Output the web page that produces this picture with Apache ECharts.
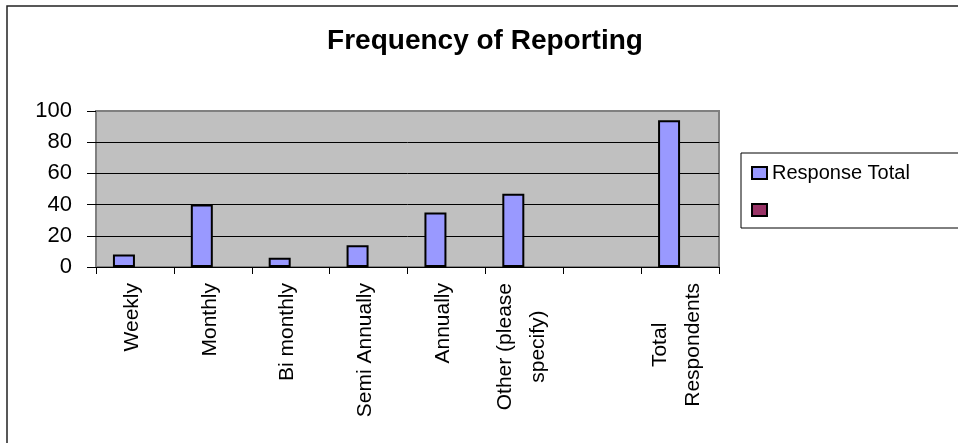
<!DOCTYPE html>
<html>
<head>
<meta charset="utf-8">
<script src="https://cdn.jsdelivr.net/npm/echarts@6/dist/echarts.min.js"></script>
<style>
  html, body { margin: 0; padding: 0; background: #fff; }
  #chart { width: 958px; height: 443px; }
</style>
</head>
<body>
<div id="chart"></div>
<script>
// Survey answers: how often results are reported
const categories = [
  'Weekly',
  'Monthly',
  'Bi monthly',
  'Semi Annually',
  'Annually',
  'Other (please\nspecify)',
  '',
  'Total\nRespondents'
];
const responseTotal = [8, 40, 6, 14, 35, 47, null, 94];
const secondSeries = [null, null, null, null, null, null, null, null];

const titleText = 'Frequency of Reporting';
const seriesNames = ['Response Total', ' '];
const yMin = 0;
const yMax = 100;
const yStep = 20;

const FONT = '"Liberation Sans", Arial, sans-serif';

const chart = echarts.init(document.getElementById('chart'), null, { renderer: 'canvas' });

chart.setOption({
  animation: false,
  backgroundColor: '#ffffff',
  title: {
    text: titleText,
    left: 485,
    top: 27,
    padding: 0,
    textAlign: 'center',
    textStyle: { fontFamily: FONT, fontSize: 28, fontWeight: 'bold', color: '#000' }
  },
  graphic: [{
    // outer chart frame
    type: 'rect',
    shape: { x: 7, y: 6, width: 1100, height: 1100 },
    style: { fill: 'none', stroke: '#222', lineWidth: 1.5 },
    silent: true,
    z: -1
  }],
  legend: {
    orient: 'vertical',
    left: 741,
    top: 153,
    padding: [10, 80, 8, 10],
    itemWidth: 15,
    itemHeight: 12,
    itemGap: 17,
    backgroundColor: '#fff',
    borderColor: '#000',
    borderWidth: 1,
    icon: 'rect',
    textStyle: { fontFamily: FONT, fontSize: 20, color: '#000', lineHeight: 18 },
    data: seriesNames
  },
  grid: {
    left: 96,
    right: 239,
    top: 111,
    bottom: 176,
    show: true,
    backgroundColor: '#C0C0C0',
    borderColor: '#808080',
    borderWidth: 2,
    containLabel: false
  },
  xAxis: {
    type: 'category',
    data: categories,
    boundaryGap: true,
    axisLine: { show: true, lineStyle: { color: '#000', width: 1 } },
    axisTick: { show: true, interval: 0, length: 7, lineStyle: { color: '#000' } },
    axisLabel: {
      interval: 0,
      rotate: 90,
      margin: 16,
      padding: [0, 0, 6, 0],
      color: '#000',
      fontFamily: FONT,
      fontSize: 21,
      formatter: function (v) {
        if (!v) return '';
        return v.split('\n').map(function (s) { return '{c|' + s + '}'; }).join('\n');
      },
      rich: {
        c: { align: 'center', fontFamily: FONT, fontSize: 21, lineHeight: 33, color: '#000' }
      }
    },
    splitLine: { show: false }
  },
  yAxis: {
    type: 'value',
    min: yMin,
    max: yMax,
    interval: yStep,
    axisLine: { show: false },
    axisTick: { show: true, length: 9, lineStyle: { color: '#000' } },
    axisLabel: { margin: 24, color: '#000', fontFamily: FONT, fontSize: 22 },
    splitLine: { show: true, showMaxLine: false, lineStyle: { color: '#000', width: 1 } }
  },
  series: [
    {
      name: seriesNames[0],
      type: 'bar',
      data: responseTotal,
      barWidth: 22,
      barGap: '0%',
      itemStyle: { color: '#9999FF', borderColor: '#000', borderWidth: 2 }
    },
    {
      name: seriesNames[1],
      type: 'bar',
      data: secondSeries,
      barWidth: 22,
      barGap: '0%',
      itemStyle: { color: '#993366', borderColor: '#000', borderWidth: 2 }
    }
  ]
});
</script>
</body>
</html>
